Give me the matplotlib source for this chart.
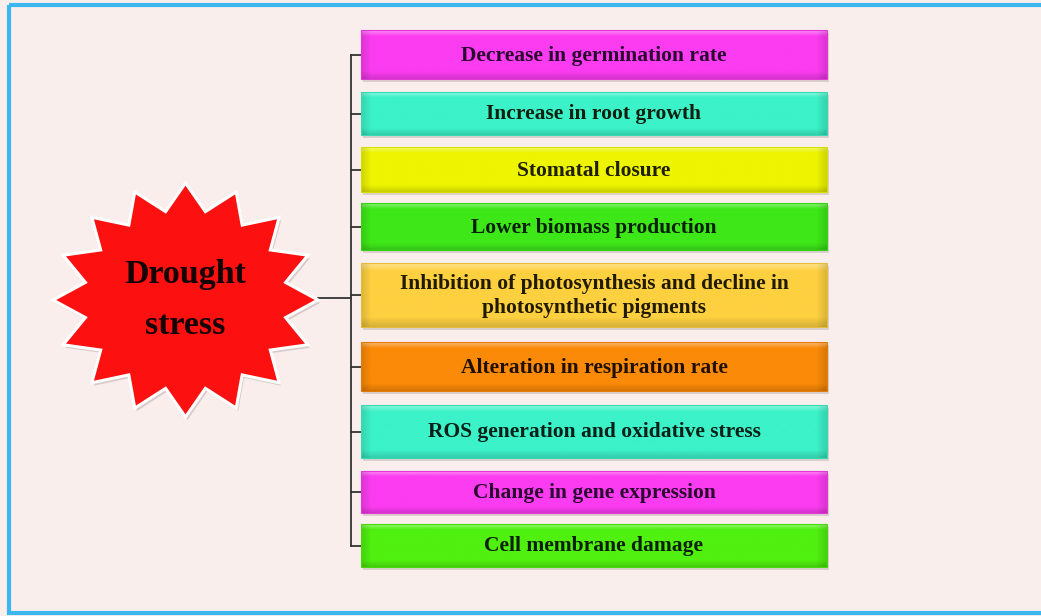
import numpy as np
import matplotlib
matplotlib.use("Agg")
import matplotlib.pyplot as plt
from matplotlib.patches import Polygon, FancyBboxPatch, Rectangle
from matplotlib.colors import to_rgb

# ---- content ----
center_label = ["Drought", "stress"]
effects = [
    "Decrease in germination rate",
    "Increase in root growth",
    "Stomatal closure",
    "Lower biomass production",
    "Inhibition of photosynthesis and decline in\nphotosynthetic pigments",
    "Alteration in respiration rate",
    "ROS generation and oxidative stress",
    "Change in gene expression",
    "Cell membrane damage",
]
box_colors = ["#fb3cf0", "#3cf2c8", "#eef500", "#3ee818", "#fdd040",
              "#fb8a08", "#3cf2c8", "#fb3cf0", "#50f010"]
text_colors = ["#2a0830", "#102010", "#202000", "#082008", "#201a00",
               "#201000", "#082018", "#2a0830", "#082008"]
# box vertical extents (top, bottom) in pixel rows
box_tops = [30, 92, 147, 203, 263, 342, 405, 471, 524]
box_bottoms = [79, 135, 192, 250, 327, 391, 458, 513, 567]

W, H = 1041, 616
fig = plt.figure(figsize=(W / 100, H / 100), dpi=100)
ax = fig.add_axes([0, 0, 1, 1])
ax.set_xlim(0, W)
ax.set_ylim(H, 0)
ax.axis("off")
fig.patch.set_facecolor("#faeeed")

# background panel + blue frame
ax.add_patch(Rectangle((0, 0), W, H, facecolor="#faeeed", edgecolor="none", zorder=0))
ax.add_patch(Rectangle((8.5, 4.5), W + 20, 608, facecolor="none",
                       edgecolor="#3cb6ee", lw=3, zorder=1))

# ---- boxes ----
bx0, bx1 = 361, 827


def shade(c, f):
    c = np.array(to_rgb(c))
    if f >= 0:
        return c + (1 - c) * f
    return c * (1 + f)


for i, (label, col, tcol, t, b) in enumerate(zip(effects, box_colors, text_colors,
                                                   box_tops, box_bottoms)):
    h = b - t
    # shadow
    ax.add_patch(FancyBboxPatch((bx0 + 2, t + 3), bx1 - bx0, h,
                                boxstyle="square,pad=0", facecolor="#c8bcbc",
                                edgecolor="none", alpha=0.6, zorder=2))
    # gradient image (vertical light->base->dark, horizontal bevel)
    ny, nx = 60, 200
    yy = np.linspace(0, 1, ny)[:, None]
    xx = np.linspace(0, 1, nx)[None, :]
    base = np.array(to_rgb(col))
    img = np.tile(base, (ny, nx, 1))
    top_light = np.clip(1 - yy / 0.12, 0, 1) * 0.4
    bot_dark = np.clip((yy - 0.85) / 0.15, 0, 1) * 0.15
    side = (np.clip(1 - xx / 0.02, 0, 1) + np.clip((xx - 0.98) / 0.02, 0, 1)) * 0.12
    img = img + (1 - img) * top_light[..., None]
    img = img * (1 - bot_dark[..., None]) * (1 - side[..., None])
    img = np.clip(img, 0, 1)
    im = ax.imshow(img, extent=(bx0, bx1, b, t), aspect="auto", zorder=3,
                   interpolation="bilinear")
    clip = Rectangle((bx0, t), bx1 - bx0, h, transform=ax.transData)
    im.set_clip_path(clip)
    ax.add_patch(Rectangle((bx0, t), bx1 - bx0, h, facecolor="none",
                           edgecolor=shade(col, -0.1), lw=0.8, zorder=4))
    ax.text((bx0 + bx1) / 2, (t + b) / 2 + 1, label, ha="center", va="center",
            fontsize=15.5, fontweight="bold", family="Liberation Serif",
            color=tcol, linespacing=1.3, zorder=5)

# ---- connectors ----
vx = 351
mids = [(t + b) / 2 for t, b in zip(box_tops, box_bottoms)]
ax.plot([vx, vx], [mids[0], mids[-1]], color="#333333", lw=1.3, zorder=2)
for m in mids:
    ax.plot([vx, bx0], [m, m], color="#333333", lw=1.3, zorder=2)
cx, cy = 185.5, 300
ax.plot([318, vx], [cy - 2, cy - 2], color="#333333", lw=1.3, zorder=2)

# ---- star ----
n = 16
rx, ry = 132.5, 117
ratio = 0.77
ang = np.pi / 2 - np.arange(2 * n) * np.pi / n
rad = np.where(np.arange(2 * n) % 2 == 0, 1.0, ratio)
pts = np.column_stack([cx + rx * rad * np.cos(ang), cy - ry * rad * np.sin(ang)])
ax.add_patch(Polygon(pts + np.array([2, 3]), closed=True, facecolor="#b8a8a8",
                     edgecolor="none", alpha=0.5, zorder=5))
ax.add_patch(Polygon(pts, closed=True, facecolor="#fc1010", edgecolor="white",
                     lw=2.2, zorder=6))
for lab, yv in zip(center_label, [275, 326]):
    ax.text(cx, yv, lab, ha="center", va="center", fontsize=24.5,
            fontweight="bold", family="Liberation Serif", color="#140404", zorder=7)

fig.savefig("out.png", dpi=100, facecolor=fig.get_facecolor())
